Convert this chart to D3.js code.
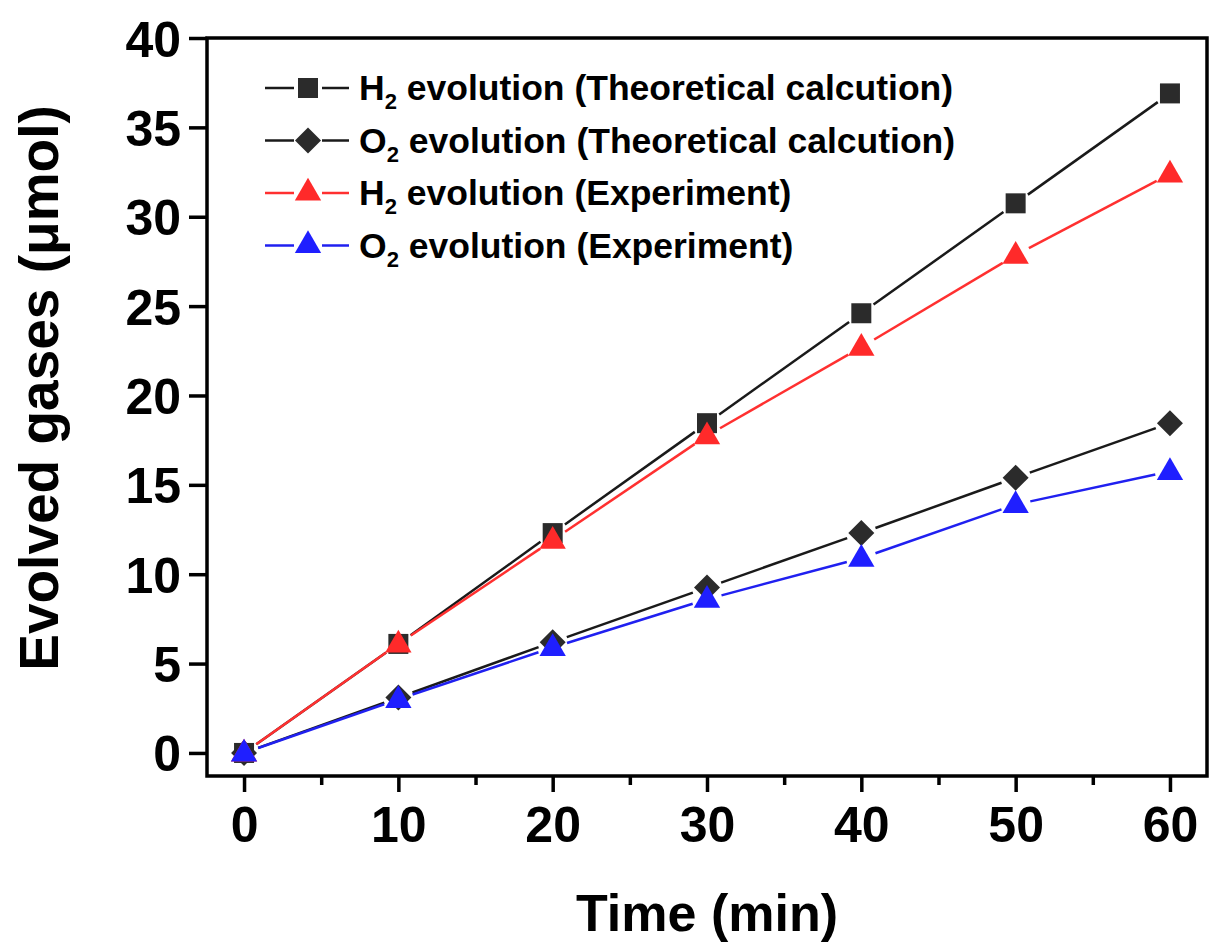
<!DOCTYPE html>
<html>
<head>
<meta charset="utf-8">
<script src="https://cdn.jsdelivr.net/npm/d3@7"></script>
<style>
  html, body { margin: 0; padding: 0; background: #fff; }
  svg { display: block; font-family: "Liberation Sans", Arial, Helvetica, sans-serif; }
</style>
</head>
<body>
<svg id="chart" width="1210" height="947"></svg>
<script>
// ---- data ----
const times = [0, 10, 20, 30, 40, 50, 60];
const h2Theory = [0, 6.1, 12.3, 18.45, 24.6, 30.75, 36.9];
const o2Theory = [0, 3.1, 6.2, 9.25, 12.3, 15.4, 18.45];
const h2Exp = [0, 6.1, 11.9, 17.75, 22.7, 27.85, 32.4];
const o2Exp = [0, 3.0, 5.9, 8.6, 10.9, 13.9, 15.75];
const xTicks = [0, 10, 20, 30, 40, 50, 60];
const xMinorTicks = [5, 15, 25, 35, 45, 55];
const yTicks = [0, 5, 10, 15, 20, 25, 30, 35, 40];
const seriesNames = [
  ["H", "2", " evolution (Theoretical calcution)"],
  ["O", "2", " evolution (Theoretical calcution)"],
  ["H", "2", " evolution (Experiment)"],
  ["O", "2", " evolution (Experiment)"]
];
const xTitle = "Time (min)";
const yTitle = "Evolved gases (\u03BCmol)";

(function () {
const series = [
  { name: seriesNames[0], values: h2Theory, symbol: "square", fill: "#2b2b2b", line: "#1a1a1a" },
  { name: seriesNames[1], values: o2Theory, symbol: "diamond", fill: "#2b2b2b", line: "#1a1a1a" },
  { name: seriesNames[2], values: h2Exp, symbol: "triangle", fill: "#ff2a2a", line: "#ff3030" },
  { name: seriesNames[3], values: o2Exp, symbol: "triangle", fill: "#1f1fff", line: "#2020f0" }
];

// ---- layout ----
const svg = d3.select("#chart");
const mLeft = 207, mRight = 1207, mTop = 38, mBottom = 776;
const x = d3.scaleLinear().domain([-2.4, 62.4]).range([mLeft, mRight]);
const y = d3.scaleLinear().domain([-1.29, 40]).range([mBottom, mTop]);

// ---- axes ----
const xAxis = svg.append("g").attr("transform", `translate(0,${mBottom})`)
  .call(d3.axisBottom(x).tickValues(xTicks).tickSize(16).tickPadding(14).tickFormat(d3.format("d")));
const xMinor = svg.append("g").attr("transform", `translate(0,${mBottom})`)
  .call(d3.axisBottom(x).tickValues(xMinorTicks).tickSize(9).tickFormat(""));
const yAxis = svg.append("g").attr("transform", `translate(${mLeft},0)`)
  .call(d3.axisLeft(y).tickValues(yTicks).tickSize(18).tickPadding(8).tickFormat(d3.format("d")));

[xAxis, xMinor, yAxis].forEach(g => {
  g.select(".domain").remove();
  g.selectAll(".tick line").attr("stroke", "#000").attr("stroke-width", 3.5);
  g.selectAll(".tick text").attr("fill", "#000").attr("font-size", 50).attr("font-weight", "bold")
    .attr("font-family", "'Liberation Sans', Arial, sans-serif");
});
yAxis.selectAll(".tick text").attr("dy", "0.36em");

// frame
svg.append("rect").attr("x", mLeft).attr("y", mTop).attr("width", mRight - mLeft).attr("height", mBottom - mTop)
  .attr("fill", "none").attr("stroke", "#000").attr("stroke-width", 3.5);

// axis titles
svg.append("text").attr("x", (mLeft + mRight) / 2).attr("y", 931).attr("text-anchor", "middle")
  .attr("font-size", 52).attr("font-weight", "bold").text(xTitle);
svg.append("text").attr("transform", `translate(58,388) rotate(-90)`).attr("text-anchor", "middle")
  .attr("font-size", 55).attr("font-weight", "bold").text(yTitle);

// ---- markers ----
function symPath(type) {
  if (type === "square") return d3.symbol(d3.symbolSquare, 400)();
  if (type === "triangle") return d3.symbol(d3.symbolTriangle, 300)();
  const s = 13;
  return `M0,${-s}L${s},0L0,${s}L${-s},0Z`;
}
const gap = 15;

const plot = svg.append("g");
series.forEach(s => {
  const pts = times.map((t, i) => [x(t), y(s.values[i])]);
  const g = plot.append("g");
  for (let i = 0; i < pts.length - 1; i++) {
    const [x1, y1] = pts[i], [x2, y2] = pts[i + 1];
    const dx = x2 - x1, dy = y2 - y1, len = Math.hypot(dx, dy);
    if (len <= 2 * gap) continue;
    const ux = dx / len, uy = dy / len;
    g.append("line")
      .attr("x1", x1 + ux * gap).attr("y1", y1 + uy * gap)
      .attr("x2", x2 - ux * gap).attr("y2", y2 - uy * gap)
      .attr("stroke", s.line).attr("stroke-width", 2.5);
  }
  g.selectAll("path.mk").data(pts).join("path").attr("class", "mk")
    .attr("d", symPath(s.symbol))
    .attr("transform", d => `translate(${d[0]},${d[1] + (s.symbol === "triangle" ? 1 : 0)})`)
    .attr("fill", s.fill);
});

// ---- legend ----
const legX1 = 265, legX2 = 349, legMid = 308, legTextX = 359;
const legY0 = 88, legDy = 52.5;
series.forEach((s, i) => {
  const ly = legY0 + i * legDy;
  svg.append("line").attr("x1", legX1).attr("x2", legMid - 14).attr("y1", ly).attr("y2", ly)
    .attr("stroke", s.line).attr("stroke-width", 2.5);
  svg.append("line").attr("x1", legMid + 14).attr("x2", legX2).attr("y1", ly).attr("y2", ly)
    .attr("stroke", s.line).attr("stroke-width", 2.5);
  svg.append("path").attr("d", symPath(s.symbol)).attr("transform", `translate(${legMid},${ly})`)
    .attr("fill", s.fill);
  const t = svg.append("text").attr("x", legTextX).attr("y", ly + 12)
    .attr("font-size", 35.5).attr("font-weight", "bold");
  t.append("tspan").text(s.name[0]);
  t.append("tspan").attr("font-size", 22).attr("dy", 9).text(s.name[1]);
  t.append("tspan").attr("dy", -9).text(s.name[2]);
});
})();
</script>
</body>
</html>
